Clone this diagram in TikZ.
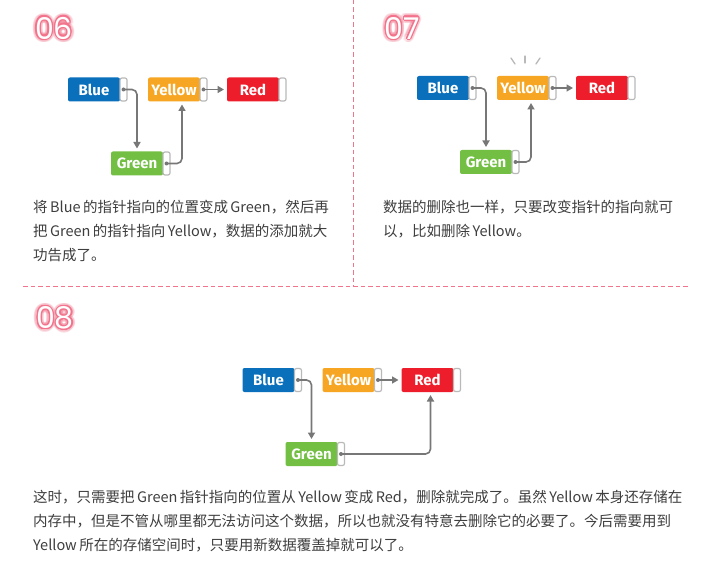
\documentclass[tikz,border=0pt]{standalone}
\usepackage{fontspec}
\setmainfont{Noto Sans CJK SC}
\newfontfamily\labelfont{Fira Sans}
\newfontfamily\numfont{Poppins}
\usetikzlibrary{positioning,arrows.meta}

\definecolor{cblue}{HTML}{0A70BC}
\definecolor{cyellow}{HTML}{F6A623}
\definecolor{cred}{HTML}{EE1D2B}
\definecolor{cgreen}{HTML}{72BF44}
\definecolor{cgray}{HTML}{777777}
\definecolor{cpink}{HTML}{F2748C}
\definecolor{ctext}{HTML}{3E3E3E}

\tikzset{
  data/.style={fill=#1, text=white, font=\labelfont\bfseries\fontsize{15}{15}\selectfont,
    minimum width=52pt, minimum height=24pt, inner sep=0pt, outer sep=0pt, rounded corners=2pt},
  ptr/.style={draw=gray!55, line width=1.2pt, fill=white, minimum width=7pt,
    minimum height=23pt, inner sep=0pt, outer sep=0pt, rounded corners=2pt},
  link/.style={cgray, line width=1.6pt, rounded corners=5pt,
    -{Triangle[length=6.5pt,width=7pt]}, shorten >=3pt},
  spark/.style={gray!55, line width=1.3pt, line cap=round},
  sep/.style={cpink, line width=1pt, dash pattern=on 4.5pt off 3pt},
  num/.style={font=\numfont\fontsize{30}{30}\selectfont, inner sep=0pt},
  body/.style={anchor=north west, align=left, inner sep=0pt, text=ctext,
    font=\fontsize{14.5}{24}\selectfont},
}

\begin{document}
\begin{tikzpicture}[x=1pt, y=-1pt]
\useasboundingbox[fill=white] (0,0) rectangle (708,577);

\draw[sep] (353,0) -- (353,286);
\draw[sep] (23,286) -- (690,286);

% step numbers
\foreach \t/\x/\y in {06/54/28, 07/402/28, 08/55/318} {
  \foreach \a in {0,20,...,340} {
    \node[num, text=cpink, opacity=0.12] (glow\t-\a) at ([shift={(\a:3.5pt)}]\x,\y) {\t};
    \node[num, text=cpink] (rim\t-\a) at ([shift={(\a:1.1pt)}]\x,\y) {\t};
  }
  \node[num, text=white] (num\t) at (\x,\y) {\t};
}

% 06
\node[data=cblue] (blue6) at (94,89.5) {Blue};
\node[ptr, right=0pt of blue6] (blue6p) {};
\node[data=cyellow, right=21pt of blue6p] (yellow6) {Yellow};
\node[ptr, right=0pt of yellow6] (yellow6p) {};
\node[data=cred, right=20pt of yellow6p] (red6) {Red};
\node[ptr, right=0pt of red6] (red6p) {};
\node[data=cgreen, below=50pt of blue6, xshift=43pt] (green6) {Green};
\node[ptr, right=0pt of green6] (green6p) {};

\fill[cgray] (blue6p) circle (2pt) (green6p) circle (2pt) (yellow6p) circle (2pt);
\draw[link] (blue6p.center) -| (green6.north);
\draw[link] (green6p.center) -| ([xshift=8pt]yellow6.south);
\draw[link] (yellow6p.center) -- (red6);

\node[body] (text6) at (33,200) {将\,Blue\,的指针指向的位置变成\,Green，然后再\\把\,Green\,的指针指向\,Yellow，数据的添加就大\\功告成了。};

% 07
\node[data=cblue] (blue7) at (443,88) {Blue};
\node[ptr, right=0pt of blue7] (blue7p) {};
\node[data=cyellow, right=21pt of blue7p] (yellow7) {Yellow};
\node[ptr, right=0pt of yellow7] (yellow7p) {};
\node[data=cred, right=20pt of yellow7p] (red7) {Red};
\node[ptr, right=0pt of red7] (red7p) {};
\node[data=cgreen, below=50pt of blue7, xshift=43pt] (green7) {Green};
\node[ptr, right=0pt of green7] (green7p) {};

\fill[cgray] (blue7p) circle (2pt) (green7p) circle (2pt) (yellow7p) circle (2pt);
\draw[link] (blue7p.center) -| (green7.north);
\draw[link] (green7p.center) -| ([xshift=8pt]yellow7.south);
\draw[link] (yellow7p.center) -- (red7);

\draw[spark] ([shift={(-12,-30)}]yellow7.center) -- ([shift={(-8,-24)}]yellow7.center);
\draw[spark] ([shift={(2,-32)}]yellow7.center) -- ([shift={(2,-25)}]yellow7.center);
\draw[spark] ([shift={(17,-30)}]yellow7.center) -- ([shift={(13,-24)}]yellow7.center);

\node[body] (text7) at (383,200) {数据的删除也一样，只要改变指针的指向就可\\以，比如删除\,Yellow。};

% 08
\node[data=cblue] (blue8) at (268.5,380) {Blue};
\node[ptr, right=0pt of blue8] (blue8p) {};
\node[data=cyellow, right=21pt of blue8p] (yellow8) {Yellow};
\node[ptr, right=0pt of yellow8] (yellow8p) {};
\node[data=cred, right=20pt of yellow8p] (red8) {Red};
\node[ptr, right=0pt of red8] (red8p) {};
\node[data=cgreen, below=50pt of blue8, xshift=43pt] (green8) {Green};
\node[ptr, right=0pt of green8] (green8p) {};

\fill[cgray] (blue8p) circle (2pt) (green8p) circle (2pt) (yellow8p) circle (2pt);
\draw[link] (blue8p.center) -| (green8.north);
\draw[link] (green8p.center) -| ([xshift=3pt]red8.south);
\draw[link] (yellow8p.center) -- (red8);

\node[body] (text8) at (33,490) {这时，只需要把\,Green\,指针指向的位置从\,Yellow\,变成\,Red，删除就完成了。虽然\,Yellow\,本身还存储在\\内存中，但是不管从哪里都无法访问这个数据，所以也就没有特意去删除它的必要了。今后需要用到\\Yellow\,所在的存储空间时，只要用新数据覆盖掉就可以了。};
\end{tikzpicture}
\end{document}
